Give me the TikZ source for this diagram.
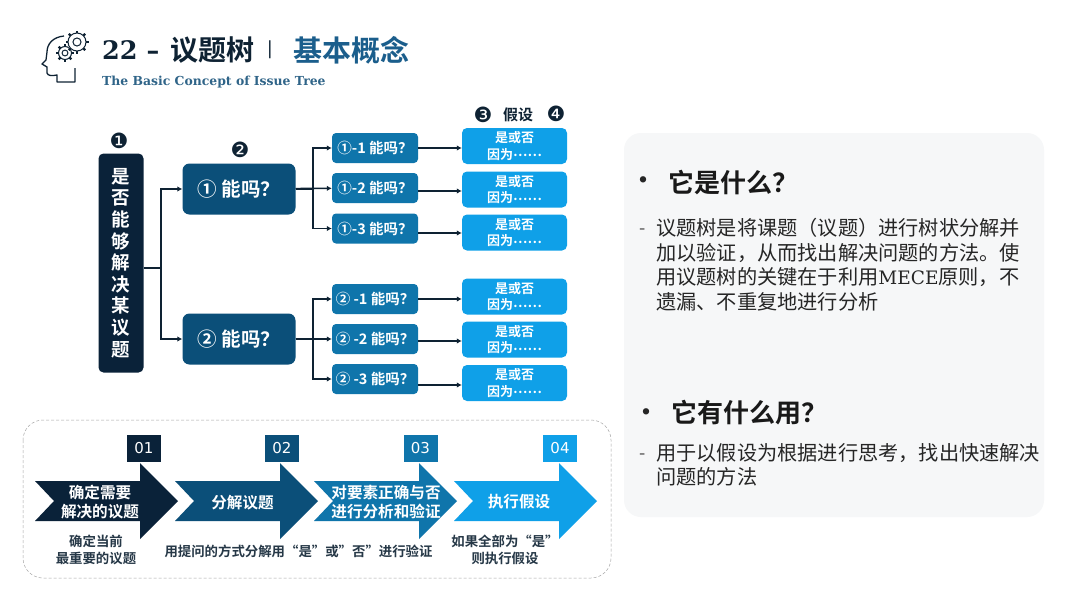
\documentclass[tikz,border=0pt]{standalone}
\usepackage{fontspec}
\setmainfont{DejaVu Serif}
\newfontfamily\cjk{Noto Sans CJK SC}[BoldFont={Noto Sans CJK SC Bold}]
\newfontfamily\djsans{DejaVu Sans}
\usetikzlibrary{arrows.meta,calc}
\definecolor{cInk}{HTML}{0E2233}
\definecolor{cNavy}{HTML}{0A2239}
\definecolor{cDeep}{HTML}{0B4F79}
\definecolor{cMid}{HTML}{0F75AB}
\definecolor{cSky}{HTML}{0FA0E8}
\definecolor{cPanel}{HTML}{F6F7F8}
\definecolor{cTitle}{HTML}{1B5E8C}
\definecolor{cSub}{HTML}{2F6488}
\newcommand{\dotsmid}{\raisebox{0.2em}{……}}
\tikzset{
 x=1pt,y=-1pt,
 cn/.style={font=\cjk\bfseries\fontsize{#1}{#1}\selectfont,text=white,align=center,inner sep=0pt},
 lvA/.style={draw=none,fill=cDeep,rounded corners=7pt,minimum width=113pt,minimum height=51pt,cn=19.5},
 lvB/.style={fill=cMid,rounded corners=4pt,minimum width=86pt,minimum height=30pt,cn=14.5},
 lvC/.style={fill=cSky,rounded corners=5pt,minimum width=105pt,minimum height=36pt,text=white,align=center,inner sep=0pt,font=\cjk\bfseries\fontsize{13}{16.5}\selectfont},
 link/.style={draw=cInk,line width=1.6pt,-{Latex[length=5pt,width=5.5pt]}},
 plainlink/.style={draw=cInk,line width=1.6pt},
 tag/.style={minimum width=34pt,minimum height=27pt,inner sep=0pt,text=white,font=\fontsize{15}{15}\selectfont\djsans},
 arrowtext/.style={font=\cjk\bfseries\fontsize{15.6}{19}\selectfont,text=white,align=center,inner sep=0pt},
 note/.style={font=\cjk\bfseries\fontsize{13.4}{17}\selectfont,text=cInk!90,align=center,inner sep=0pt},
 badge/.style={font=\djsans\fontsize{21}{21}\selectfont,text=cInk,inner sep=0pt},
 bulletdot/.style={font=\djsans\bfseries\fontsize{18}{18}\selectfont,inner sep=0pt,text=black!85},
 head/.style={font=\cjk\bfseries\fontsize{26}{26}\selectfont,text=black!90,anchor=west,inner sep=0pt},
 body/.style={text=black!85,anchor=west,align=left,inner sep=0pt},
 dashmark/.style={font=\cjk\fontsize{18}{18}\selectfont,text=black!70,inner sep=0pt},
}
\newcommand{\fatarrow}[3]{% x-start, tip x, colour
 \fill[#3] (#1,481) -- ({#2-38},481) -- ({#2-38},463) -- (#2,501) -- ({#2-38},539) -- ({#2-38},521) -- (#1,521) -- ({#1+19},501) -- cycle;}
\begin{document}
\begin{tikzpicture}
\useasboundingbox (0,0) rectangle (1080,608);
\fill[white] (0,0) rectangle (1080,608);
% panels
\fill[cPanel,rounded corners=17pt] (624,133) rectangle (1044,517);
\draw[black!35,densely dashed,line width=.5pt,rounded corners=20pt] (23,420) rectangle (611,578);
% title icon
\draw[cInk,line width=1.3pt,line join=round] (64,36) .. controls (53,37) and (47,44) .. (47,52) -- (46,60) -- (42,64) -- (47,67) -- (47,73) .. controls (48,76) and (52,76) .. (57,75) -- (57,82) -- (75,82) -- (75,68);
\foreach \cx/\cy/\r in {65/53/6.5,77/42/9}{
 \fill[white] (\cx,\cy) circle [radius=\r+1];
 \draw[cInk,line width=1pt] (\cx,\cy) circle [radius=\r];
 \draw[cInk,line width=1pt] (\cx,\cy) circle [radius=\r*0.45];
 \foreach \a in {0,45,...,315}\draw[cInk,line width=2.4pt] ($(\cx,\cy)+(\a:\r)$) -- ($(\cx,\cy)+(\a:\r+2.5)$);
}
% title
\node[anchor=west,inner sep=0pt,text=cInk,font=\bfseries\fontsize{25.5}{27}\selectfont] (t1) at (102,50) {22 –};
\node[anchor=west,inner sep=0pt,text=cInk,font=\cjk\bfseries\fontsize{28}{28}\selectfont] (t2) at (170,50) {议题树};
\node[anchor=center,inner sep=0pt,text=cInk,font=\fontsize{18}{18}\selectfont] (t3) at (270,50) {|};
\node[anchor=west,inner sep=0pt,text=cTitle,font=\cjk\bfseries\fontsize{29}{29}\selectfont] (t4) at (293,50) {基本概念};
\node[anchor=west,inner sep=0pt,text=cSub,font=\bfseries\fontsize{12.4}{13}\selectfont] (t5) at (102,82) {The Basic Concept of Issue Tree};
% badges
\node[badge] (b1) at (119,141) {❶};
\node[badge] (b2) at (240,150) {❷};
\node[badge] (b3) at (483,115) {❸};
\node[badge] (b4) at (556,114) {❹};
\node[inner sep=0pt,text=cInk,font=\cjk\bfseries\fontsize{15}{15}\selectfont] (bj) at (518,115) {假设};
% tree
\node[fill=cNavy,rounded corners=5pt,minimum width=45pt,minimum height=219pt,cn=18.5,font=\cjk\bfseries\fontsize{18.5}{21.6}\selectfont] (root) at (121,263) {是\\否\\能\\够\\解\\决\\某\\议\\题};
\node[lvA] (a1) at (239,189) {① 能吗？};
\node[lvA] (a2) at (239,339) {② 能吗？};
\node[lvB] (a11) at (375,148) {①-1 能吗？};
\node[lvB] (a12) at (375,188) {①-2 能吗？};
\node[lvB] (a13) at (375,228.5) {①-3 能吗？};
\node[lvB] (a21) at (375,299) {② -1 能吗？};
\node[lvB] (a22) at (375,339) {② -2 能吗？};
\node[lvB] (a23) at (375,379) {② -3 能吗？};
\foreach \n/\y in {c11/146,c12/189.5,c13/232.5,c21/296.5,c22/339.5,c23/383}
 \node[lvC] (\n) at (514.5,\y) {是或否\\因为\dotsmid};
\coordinate (jr) at (161,268);
\draw[plainlink] (root.east |- jr) -- (jr);
\draw[link] (jr) |- (a1);
\draw[link] (jr) |- (a2);
\foreach \p/\q in {a1/a11,a1/a13,a2/a21,a2/a23}{
 \draw[link] (\p.east) -- ++(17,0) |- (\q.west);
}
\draw[link] (a1) -- (a12);
\draw[link] (a2) -- (a22);
\foreach \p/\q/\y in {a11/c11/148,a12/c12/191,a13/c13/233,a21/c21/299,a22/c22/341,a23/c23/385}
 \draw[link] (\p.east |- 0,\y) -- (\q.west |- 0,\y);
% bottom process
\fatarrow{35}{178}{cNavy}
\fatarrow{175}{318}{cDeep}
\fatarrow{314}{457}{cMid}
\fatarrow{454}{597}{cSky}
\node[tag,fill=cNavy] (n1) at (144,448.5) {01};
\node[tag,fill=cDeep] (n2) at (282,448.5) {02};
\node[tag,fill=cMid] (n3) at (420.5,448.5) {03};
\node[tag,fill=cSky] (n4) at (560,448.5) {04};
\node[arrowtext] (s1) at (100,502.5) {确定需要\\解决的议题};
\node[arrowtext] (s2) at (242.5,503) {分解议题};
\node[arrowtext] (s3) at (386,502) {对要素正确与否\\进行分析和验证};
\node[arrowtext] (s4) at (519,502) {执行假设};
\node[note] (m1) at (96,550) {确定当前\\最重要的议题};
\node[note] (m2) at (298.5,551) {用提问的方式分解用“是”或”否”进行验证};
\node[note] (m3) at (505,550) {如果全部为“是”\\则执行假设};
% right panel text
\node[bulletdot] (d1) at (643,182) {•};
\node[head] (h1) at (668,183) {它是什么？};
\node[dashmark] (q1) at (643,232) {-};
\node[body,font=\cjk\fontsize{20.2}{24.5}\selectfont] (p1) at (656,264.5) {议题树是将课题（议题）进行树状分解并\\加以验证，从而找出解决问题的方法。使\\用议题树的关键在于利用{\rmfamily\fontsize{18.5}{24.5}\selectfont MECE}原则，不\\遗漏、不重复地进行分析};
\node[bulletdot] (d2) at (646,414) {•};
\node[head] (h2) at (671,413) {它有什么用？};
\node[dashmark] (q2) at (643,457) {-};
\node[body,font=\cjk\fontsize{20.2}{24.5}\selectfont] (p2) at (656,465) {用于以假设为根据进行思考，找出快速解决\\问题的方法};
\end{tikzpicture}
\end{document}
